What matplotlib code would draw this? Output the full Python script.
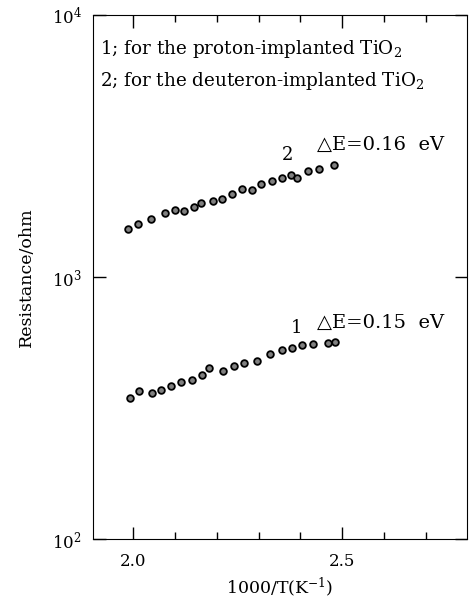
import matplotlib
matplotlib.use('Agg')
import matplotlib.pyplot as plt
from matplotlib.ticker import MultipleLocator, LogLocator, NullLocator
import numpy as np

plt.rcParams['font.family'] = ['DejaVu Serif']
plt.rcParams['mathtext.fontset'] = 'dejavuserif'

# series 1: proton-implanted TiO2
x1 = [1.994, 2.015, 2.046, 2.067, 2.092, 2.115, 2.142, 2.164, 2.182, 2.216,
      2.241, 2.265, 2.296, 2.328, 2.355, 2.379, 2.405, 2.431, 2.467, 2.483]
r1 = [347, 369, 360, 372, 385, 396, 406, 422, 450, 438,
      458, 468, 480, 508, 529, 536, 552, 556, 562, 565]

# series 2: deuteron-implanted TiO2
x2 = [1.989, 2.011, 2.043, 2.077, 2.101, 2.123, 2.145, 2.163, 2.191, 2.212,
      2.237, 2.260, 2.284, 2.307, 2.331, 2.355, 2.377, 2.392, 2.418, 2.444, 2.481]
r2 = [1524, 1592, 1659, 1758, 1800, 1784, 1852, 1926, 1953, 1987,
      2076, 2163, 2159, 2266, 2335, 2398, 2462, 2384, 2533, 2594, 2672]

fig = plt.figure(figsize=(4.76, 6.05), dpi=100)
ax = fig.add_axes([0.195, 0.109, 0.786, 0.866])

mk = dict(ls='none', marker='o', ms=4.8, mfc='#808080', mec='black', mew=1.3)
ax.plot(x1, r1, **mk)
ax.plot(x2, r2, **mk)

ax.set_yscale('log')
ax.set_xlim(1.904, 2.798)
ax.set_ylim(1e2, 1e4)
ax.xaxis.set_major_locator(MultipleLocator(0.5))
ax.xaxis.set_minor_locator(MultipleLocator(0.1))
ax.xaxis.set_major_formatter(plt.FuncFormatter(lambda v, p: '%.1f' % v))
ax.yaxis.set_major_locator(LogLocator(base=10))
ax.yaxis.set_minor_locator(NullLocator())
ax.tick_params(which='both', direction='in', top=True, right=True, labelsize=12)
ax.tick_params(which='major', length=9, width=1)
ax.tick_params(which='minor', length=5, width=1)
ax.tick_params(axis='x', pad=10)
ax.tick_params(axis='y', pad=8)

ax.set_xlabel('1000/T(K$^{-1}$)', fontsize=12.5, labelpad=4)
ax.set_ylabel('Resistance/ohm', fontsize=12.5, labelpad=12)

ax.text(0.02, 0.935, '1; for the proton-implanted TiO$_2$', transform=ax.transAxes,
        fontsize=13.2, va='center')
ax.text(0.02, 0.875, '2; for the deuteron-implanted TiO$_2$', transform=ax.transAxes,
        fontsize=13.2, va='center')
ax.text(2.37, 2800, '2', fontsize=13, ha='center')
ax.text(2.39, 610, '1', fontsize=13, ha='center')
ax.text(2.44, 3050, '\u25b3E=0.16  eV', fontsize=14)
ax.text(2.44, 640, '\u25b3E=0.15  eV', fontsize=14)

fig.savefig('out.png', dpi=100)
